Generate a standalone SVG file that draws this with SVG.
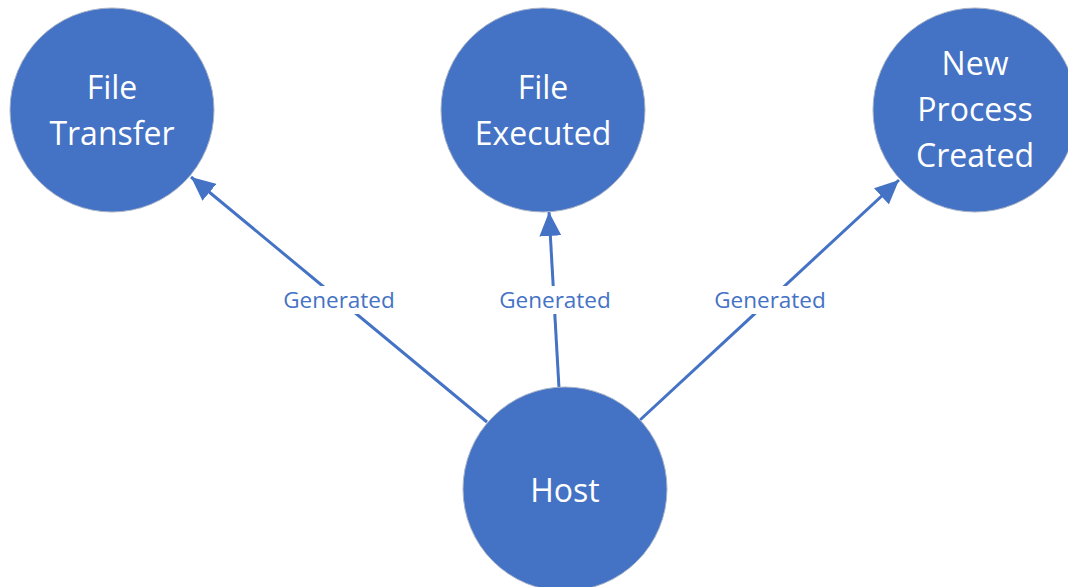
<svg xmlns="http://www.w3.org/2000/svg" width="1068" height="587" viewBox="0 0 1068 587">
<style>
.node{fill:#4472C4;stroke:#A9B4C8;stroke-width:1}
.nt{fill:#FFFFFF;font-family:"Open Sans","Liberation Sans",sans-serif;font-size:32px;text-anchor:middle}
.edge{stroke:#4472C4;stroke-width:3;fill:none;marker-end:url(#ah)}
.lbl{fill:#4472C4;font-family:"Open Sans","Liberation Sans",sans-serif;font-size:22.5px;text-anchor:middle}
.lblbg{fill:#FFFFFF}
</style>
<defs>
<marker id="ah" markerUnits="userSpaceOnUse" markerWidth="26" markerHeight="22" refX="24" refY="11" orient="auto">
<path d="M0,0 L24,11 L0,22 Z" fill="#4472C4"/>
</marker>
</defs>
<rect width="1068" height="587" fill="#FFFFFF"/>
<g id="connectors">
<line class="edge" x1="487" y1="422" x2="191" y2="177"/>
<line class="edge" x1="559" y1="388" x2="549" y2="212"/>
<line class="edge" x1="640" y1="420" x2="899" y2="180"/>
<rect class="lblbg" x="279" y="286" width="120" height="28"/>
<text class="lbl" x="339" y="308">Generated</text>
<rect class="lblbg" x="495" y="286" width="120" height="28"/>
<text class="lbl" x="555" y="308">Generated</text>
<rect class="lblbg" x="710" y="286" width="120" height="28"/>
<text class="lbl" x="770" y="308">Generated</text>
</g>
<g id="file-transfer">
<circle class="node" cx="112" cy="110" r="102"/>
<text class="nt" x="112" y="99">File</text>
<text class="nt" x="112" y="145">Transfer</text>
</g>
<g id="file-executed">
<circle class="node" cx="543" cy="110" r="102"/>
<text class="nt" x="543" y="99">File</text>
<text class="nt" x="543" y="145">Executed</text>
</g>
<g id="new-process-created">
<circle class="node" cx="975" cy="110" r="102"/>
<text class="nt" x="975" y="75">New</text>
<text class="nt" x="975" y="121">Process</text>
<text class="nt" x="975" y="167">Created</text>
</g>
<g id="host">
<circle class="node" cx="565" cy="489" r="102"/>
<text class="nt" x="565" y="502">Host</text>
</g>
</svg>
